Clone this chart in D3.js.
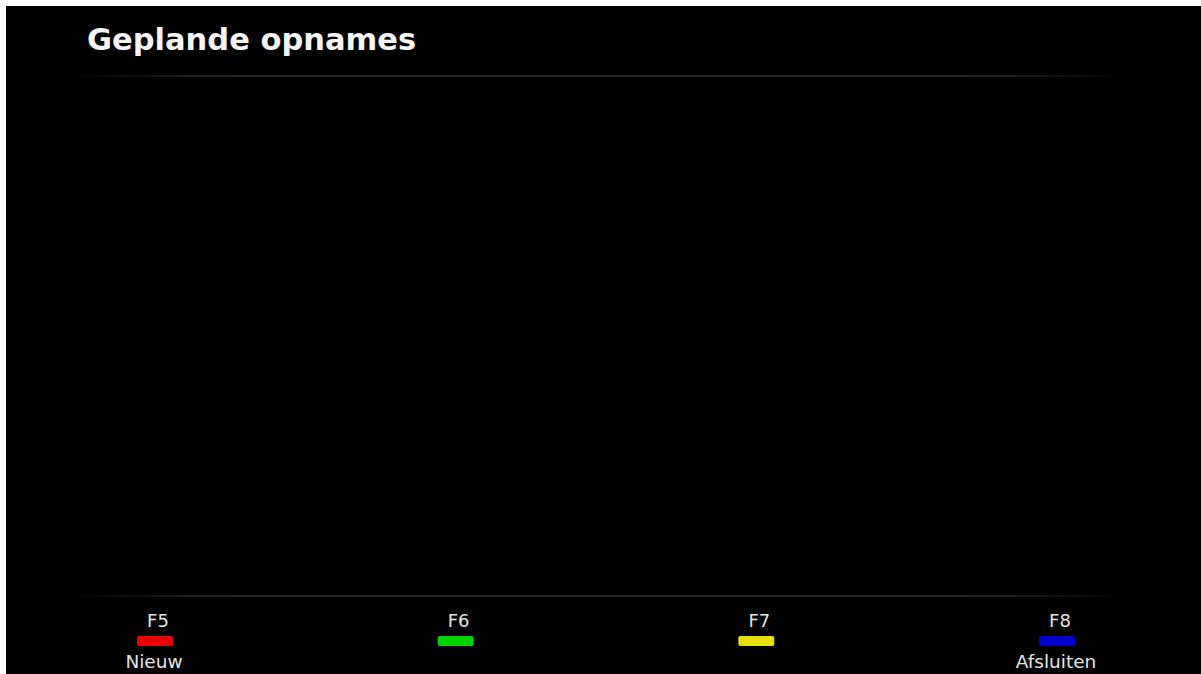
<!DOCTYPE html>
<html>
<meta charset="utf-8">
<style>
body {
  margin: 0;
  background-color: #fff;
}
svg {
  display: block;
}
.title {
  font: bold 30.5px "DejaVu Sans", Verdana, sans-serif;
  fill: #f4f4f4;
}
.key, .action {
  font: 18.5px "DejaVu Sans", Verdana, sans-serif;
  fill: #e4e4e4;
  text-anchor: middle;
}
.key {
  font-size: 18px;
}
</style>
<body>
<script src="https://d3js.org/d3.v7.min.js"></script>
<script>

var title = "Geplande opnames";
var keys = ["F5", "F6", "F7", "F8"];
var actions = ["Nieuw", "", "", "Afsluiten"];
var keyColors = ["#e60000", "#00d400", "#e8e000", "#0000cc"];

var width = 1201,
    height = 674;

var svg = d3.select("body")
    .append("svg")
    .attr("width", width)
    .attr("height", height);

// fading separator
var grad = svg.append("defs")
    .append("linearGradient")
    .attr("id", "sep-gradient")
    .attr("x1", "0%")
    .attr("x2", "100%");
grad.append("stop").attr("offset", "0%").attr("stop-color", "#000");
grad.append("stop").attr("offset", "15%").attr("stop-color", "#262626");
grad.append("stop").attr("offset", "85%").attr("stop-color", "#262626");
grad.append("stop").attr("offset", "100%").attr("stop-color", "#000");

// screen
svg.append("rect")
    .attr("x", 6)
    .attr("y", 6)
    .attr("width", width - 6)
    .attr("height", height - 6)
    .attr("fill", "#000");

svg.append("text")
    .attr("class", "title")
    .attr("x", 87)
    .attr("y", 50)
    .text(title);

[75, 595].forEach(function(y) {
  svg.append("rect")
      .attr("x", 70)
      .attr("y", y)
      .attr("width", 1060)
      .attr("height", 2)
      .attr("fill", "url(#sep-gradient)");
});

// function keys
var x = d3.scalePoint()
    .domain(keys)
    .range([155, 1057]);

var btn = svg.selectAll(".btn")
    .data(keys)
    .enter().append("g")
    .attr("class", "btn")
    .attr("transform", function(d) { return "translate(" + x(d) + ",0)"; });

btn.append("text")
    .attr("class", "key")
    .attr("x", 3)
    .attr("y", 627)
    .text(function(d) { return d; });

btn.append("rect")
    .attr("x", -18)
    .attr("y", 636)
    .attr("width", 36)
    .attr("height", 10)
    .attr("rx", 2)
    .attr("fill", function(d, i) { return keyColors[i]; });

btn.append("text")
    .attr("class", "action")
    .attr("x", -1)
    .attr("y", 668)
    .text(function(d, i) { return actions[i]; });

</script>
</body>
</html>
